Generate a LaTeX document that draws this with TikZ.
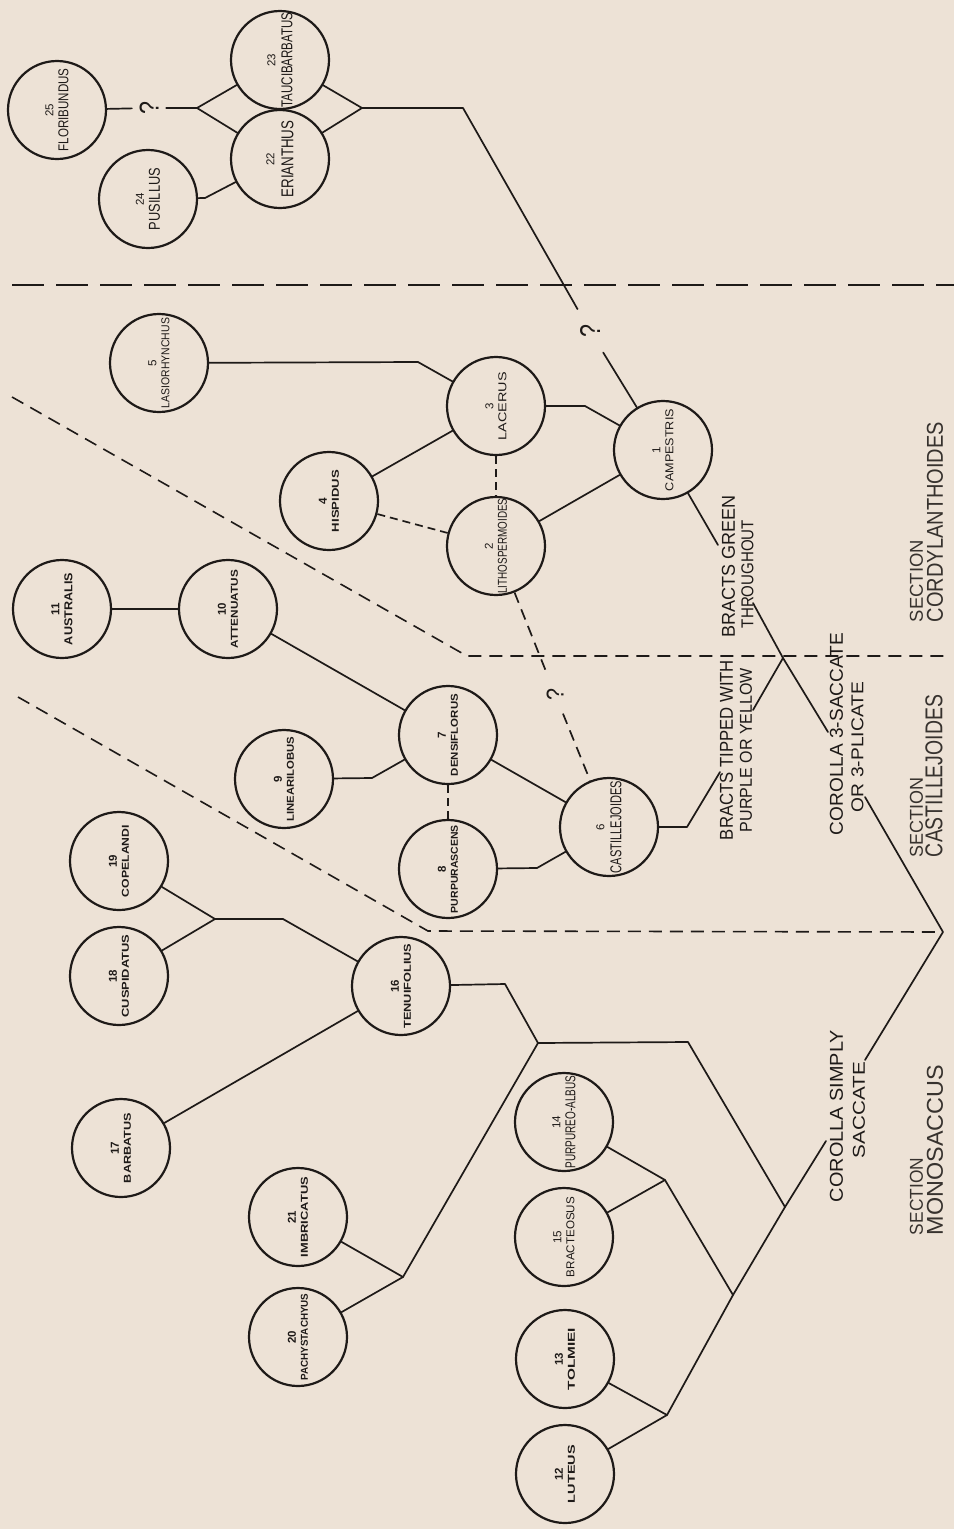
\documentclass[tikz,border=0pt]{standalone}
\usepackage{fontspec}
\setmainfont{Liberation Sans}
\usepackage{graphicx}
\definecolor{paper}{RGB}{237,226,214}
\definecolor{ink}{RGB}{30,26,24}
\definecolor{secink}{RGB}{55,50,46}
\tikzset{
  circ/.style={circle, draw=ink, line width=2.2pt, minimum size=98pt, inner sep=0pt},
  con/.style={draw=ink, line width=1.7pt, line join=round, line cap=round},
  dcon/.style={draw=ink, line width=1.7pt, dash pattern=on 8pt off 5pt},
  dlong/.style={draw=ink, line width=1.7pt, dash pattern=on 11pt off 7pt},
  sepline/.style={draw=ink, line width=2pt, dash pattern=on 32pt off 12pt},
  bound/.style={draw=ink, line width=1.6pt, dash pattern=on 13pt off 8pt},
  spt/.style={rotate=90, align=center, inner sep=0pt, text=ink, font=\fontsize{8}{11}\selectfont},
  lbl/.style={rotate=90, inner sep=0pt, text=ink},
  sec/.style={rotate=90, inner sep=0pt, text=secink},
  qm/.style={circle, inner sep=0pt, text=ink, rotate=90},
}
\newcommand\spnode[8]{%
  \node[circ] (#1) at (#2,#3) {};
  \node[spt] (t#1) at (#2,#3) {\resizebox{!}{8pt}{#8#4}\\[\dimexpr#7pt-6pt\relax]\resizebox{#6pt}{#7pt}{#8#5}};
}
\begin{document}
\begin{tikzpicture}[x=1pt,y=-1pt]
\fill[paper] (0,0) rectangle (954,1529);
\useasboundingbox (0,0) rectangle (954,1529);

% separators
\coordinate (sA) at (12,285); \coordinate (sB) at (954,285);
\draw[sepline] (sA) -- (sB);
\coordinate (uA) at (12,397); \coordinate (uB) at (467,656); \coordinate (uC) at (946,656);
\draw[bound] (uA) -- (uB) -- (uC);
\coordinate (root) at (943,932);
\coordinate (lA) at (18,697); \coordinate (lB) at (428,931);
\draw[bound] (lA) -- (lB) -- (root);

% species
\spnode{n1}{663}{450}{1}{CAMPESTRIS}{82}{8}{\relax}
\spnode{n2}{496}{546}{2}{LITHOSPERMOIDES}{95}{9}{\relax}
\spnode{n3}{496}{406}{3}{LACERUS}{68}{8}{\relax}
\spnode{n4}{329}{501}{4}{HISPIDUS}{62}{7}{\bfseries}
\spnode{n5}{159}{363}{5}{LASIORHYNCHUS}{90}{8}{\relax}
\spnode{n6}{609}{827}{6}{CASTILLEJOIDES}{92}{11}{\relax}
\spnode{n7}{448}{735}{7}{DENSIFLORUS}{82}{7}{\bfseries}
\spnode{n8}{448}{869}{8}{PURPURASCENS}{88}{7}{\bfseries}
\spnode{n9}{284}{779}{9}{LINEARILOBUS}{85}{7}{\bfseries}
\spnode{n10}{228}{609}{10}{ATTENUATUS}{78}{7}{\bfseries}
\spnode{n11}{62}{609}{11}{AUSTRALIS}{72}{8}{\bfseries}
\spnode{n12}{565}{1474}{12}{LUTEUS}{58}{7}{\bfseries}
\spnode{n13}{565}{1359}{13}{TOLMIEI}{62}{7}{\bfseries}
\spnode{n14}{564}{1122}{14}{PURPUREO-ALBUS}{93}{10}{\relax}
\spnode{n15}{564}{1237}{15}{BRACTEOSUS}{80}{8}{\relax}
\spnode{n16}{401}{986}{16}{TENUIFOLIUS}{85}{7}{\bfseries}
\spnode{n17}{121}{1148}{17}{BARBATUS}{70}{7}{\bfseries}
\spnode{n18}{119}{976}{18}{CUSPIDATUS}{83}{7}{\bfseries}
\spnode{n19}{119}{861}{19}{COPELANDI}{72}{7}{\bfseries}
\spnode{n20}{298}{1337}{20}{PACHYSTACHYUS}{87}{7}{\bfseries}
\spnode{n21}{298}{1217}{21}{IMBRICATUS}{80}{7}{\bfseries}
\spnode{n22}{280}{159}{22}{ERIANTHUS}{77}{12}{\relax}
\spnode{n23}{280}{60}{23}{TAUCIBARBATUS}{95}{11}{\relax}
\spnode{n24}{148}{199}{24}{PUSILLUS}{62}{11}{\relax}
\spnode{n25}{57}{110}{25}{FLORIBUNDUS}{83}{10}{\relax}

% question marks
\node[qm, minimum size=34pt] (q1) at (149,108) {\resizebox{13pt}{19pt}{?}};
\node[qm, minimum size=50pt] (q2) at (590,331) {\resizebox{13pt}{20pt}{?}};
\node[qm, minimum size=42pt] (q3) at (555,694) {\resizebox{12pt}{17pt}{?}};

% labels
\node[lbl] (lTip1) at (726.5,750) {\resizebox{180pt}{13pt}{BRACTS TIPPED WITH}};
\node[lbl] (lTip2) at (746,750) {\resizebox{164pt}{12pt}{PURPLE OR YELLOW}};
\node[lbl] (lGr1) at (728.5,566) {\resizebox{142pt}{13pt}{BRACTS GREEN}};
\node[lbl] (lGr2) at (747.5,574) {\resizebox{108pt}{12pt}{THROUGHOUT}};
\node[lbl] (lCo1) at (836.5,734) {\resizebox{202pt}{13pt}{COROLLA 3-SACCATE}};
\node[lbl] (lCo2) at (857.5,747) {\resizebox{130pt}{12pt}{OR 3-PLICATE}};
\node[lbl] (lSi1) at (836.5,1116) {\resizebox{172pt}{13pt}{COROLLA SIMPLY}};
\node[lbl] (lSi2) at (859,1110) {\resizebox{96pt}{12pt}{SACCATE}};

\node[sec] (s1a) at (916.5,581) {\resizebox{82pt}{13pt}{SECTION}};
\node[sec] (s1b) at (935,522) {\resizebox{200pt}{16pt}{CORDYLANTHOIDES}};
\node[sec] (s2a) at (916.5,817) {\resizebox{80pt}{13pt}{SECTION}};
\node[sec] (s2b) at (934,776) {\resizebox{162pt}{17pt}{CASTILLEJOIDES}};
\node[sec] (s3a) at (916.5,1196.5) {\resizebox{77pt}{13pt}{SECTION}};
\node[sec] (s3b) at (935,1150) {\resizebox{170pt}{16pt}{MONOSACCUS}};

% junction coordinates
\coordinate (jL) at (197,108);
\coordinate (jR) at (362,108);
\coordinate (jR2) at (463,108);
\coordinate (e24) at (205,198);
\coordinate (e5) at (418,362);
\coordinate (e3) at (585,406);
\coordinate (cGreen) at (718,545);
\coordinate (e9) at (372,778);
\coordinate (e8) at (537,868);
\coordinate (e6) at (687,827);
\coordinate (cTip) at (720,772);
\coordinate (cThrough) at (753,603);
\coordinate (cX) at (783,658);
\coordinate (cSacc) at (828,732);
\coordinate (cYellow) at (753,710);
\coordinate (cOr) at (865,797);
\coordinate (cSac2) at (865,1060);
\coordinate (cCor) at (826,1141);
\coordinate (j19) at (215,919);
\coordinate (e19) at (283,919);
\coordinate (e16) at (505,984);
\coordinate (j16) at (538,1043);
\coordinate (j2021) at (403,1277);
\coordinate (e16b) at (688,1042);
\coordinate (jM) at (785,1207);
\coordinate (j1415) at (665,1180);
\coordinate (jA) at (733,1295);
\coordinate (j1213) at (667,1415);

% Cordylanthoides connectors
\draw[con] (n25) -- (q1);
\draw[con] (q1) -- (jL);
\draw[con] (n23) -- (jL) -- (n22);
\draw[con] (n23) -- (jR) -- (n22);
\draw[con] (n24) -- (e24) -- (n22);
\draw[con] (jR) -- (jR2) -- (q2);
\draw[con] (q2) -- (n1);
\draw[con] (n5) -- (e5) -- (n3);
\draw[con] (n4) -- (n3);
\draw[dcon] (n4) -- (n2);
\draw[dcon] (n3) -- (n2);
\draw[con] (n3) -- (e3) -- (n1);
\draw[con] (n2) -- (n1);
\draw[con] (n1) -- (cGreen);
\draw[dlong] (n2) -- (q3);
\draw[dlong] (q3) -- (n6);

% Castillejoides connectors
\draw[con] (n11) -- (n10);
\draw[con] (n10) -- (n7);
\draw[con] (n9) -- (e9) -- (n7);
\draw[dcon] (n7) -- (n8);
\draw[con] (n7) -- (n6);
\draw[con] (n8) -- (e8) -- (n6);
\draw[con] (n6) -- (e6) -- (cTip);

% key lines
\draw[con] (cThrough) -- (cX) -- (cSacc);
\draw[con] (cYellow) -- (cX);
\draw[con] (cOr) -- (root) -- (cSac2);

% Monosaccus connectors
\draw[con] (n19) -- (j19) -- (n18);
\draw[con] (j19) -- (e19) -- (n16);
\draw[con] (n17) -- (n16);
\draw[con] (n16) -- (e16) -- (j16);
\draw[con] (j16) -- (j2021);
\draw[con] (n21) -- (j2021) -- (n20);
\draw[con] (j16) -- (e16b) -- (jM);
\draw[con] (n14) -- (j1415) -- (n15);
\draw[con] (j1415) -- (jA);
\draw[con] (n13) -- (j1213) -- (n12);
\draw[con] (j1213) -- (jA) -- (jM) -- (cCor);
\end{tikzpicture}
\end{document}
